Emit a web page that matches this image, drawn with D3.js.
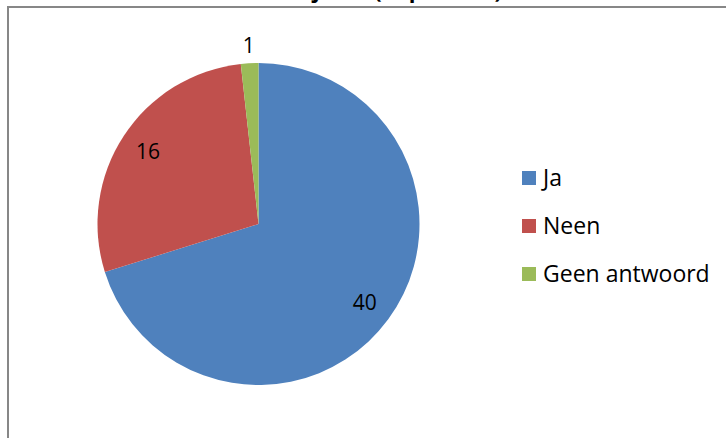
<!DOCTYPE html>
<html>
<head>
<meta charset="utf-8">
<script src="https://cdn.jsdelivr.net/npm/d3@7"></script>
<style>
  body { margin: 0; background: #fff; }
  svg { display: block; }
</style>
</head>
<body>
<script>
//Data
var categories = ["Ja", "Neen", "Geen antwoord"];
var values = [40, 16, 1];
var colors = ["#4F81BD", "#C0504D", "#9BBB59"];

//Width and height
var w = 726;
var h = 438;

//Pie geometry
var cx = 258.5, cy = 224, r = 161;

var svg = d3.select("body")
            .append("svg")
            .attr("width", w)
            .attr("height", h);

//Chart area frame (cut off at right and bottom)
svg.append("rect")
   .attr("x", 8)
   .attr("y", 7)
   .attr("width", 900)
   .attr("height", 600)
   .attr("fill", "none")
   .attr("stroke", "#878787")
   .attr("stroke-width", 2);

//Title, above the picture: only its descenders show
svg.append("text")
   .attr("x", 502)
   .attr("y", -2.5)
   .attr("text-anchor", "end")
   .attr("font-family", "'Open Sans', sans-serif")
   .attr("font-weight", "bold")
   .attr("font-size", 22)
   .attr("fill", "#000")
   .text("Ken je dit (in procent)");

var color = d3.scaleOrdinal()
              .domain(categories)
              .range(colors);

var pie = d3.pie()
            .sort(null)
            .value(function(d) { return d.value; });

var data = categories.map(function(c, i) { return { name: c, value: values[i] }; });
var arcs = pie(data);

var arc = d3.arc()
            .innerRadius(0)
            .outerRadius(r);

var g = svg.append("g")
           .attr("transform", "translate(" + cx + "," + cy + ")");

g.selectAll("path")
 .data(arcs)
 .enter()
 .append("path")
 .attr("d", arc)
 .attr("fill", function(d) { return color(d.data.name); });

//Data labels: inside for big slices, outside for tiny ones
g.selectAll("text.label")
 .data(arcs)
 .enter()
 .append("text")
 .attr("class", "label")
 .attr("transform", function(d) {
     var a = (d.startAngle + d.endAngle) / 2;
     var big = (d.endAngle - d.startAngle) > 0.3;
     var rr = big ? 132 : r + 18;
     return "translate(" + (rr * Math.sin(a)) + "," + (-rr * Math.cos(a)) + ")";
 })
 .attr("dy", "0.36em")
 .attr("text-anchor", "middle")
 .attr("font-family", "'Open Sans', sans-serif")
 .attr("font-size", 21)
 .attr("fill", "#000")
 .text(function(d) { return d.data.value; });

//Legend
var ly = d3.scalePoint()
           .domain(categories)
           .range([178, 274]);

var legend = svg.append("g")
                .attr("class", "legend");

var item = legend.selectAll("g")
                 .data(categories)
                 .enter()
                 .append("g")
                 .attr("transform", function(d) { return "translate(522," + ly(d) + ")"; });

item.append("rect")
    .attr("x", 0)
    .attr("y", -7)
    .attr("width", 14)
    .attr("height", 14)
    .attr("fill", function(d) { return color(d); });

item.append("text")
    .attr("x", 21)
    .attr("y", 7.5)
    .attr("font-family", "'Open Sans', sans-serif")
    .attr("font-size", 23)
    .attr("fill", "#000")
    .text(function(d) { return d; });
</script>
</body>
</html>
